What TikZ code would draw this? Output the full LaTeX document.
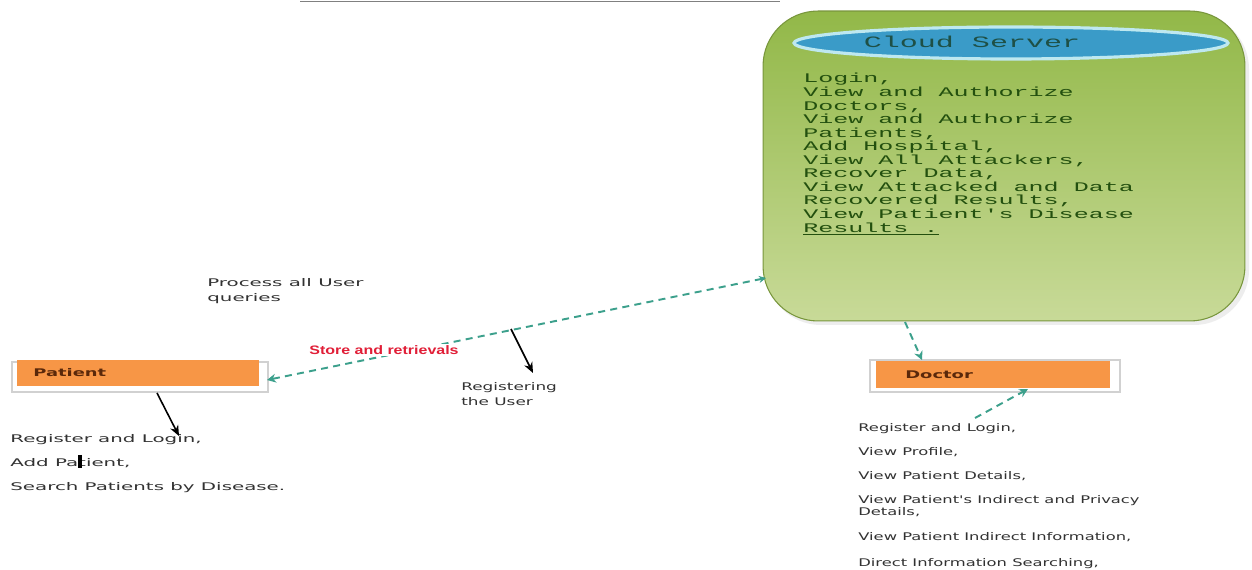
\documentclass[tikz,border=0pt]{standalone}
\usepackage{fontspec}
\setmainfont{DejaVu Sans}
\newfontfamily\monofnt[FakeStretch=1.9]{Liberation Mono}
\newfontfamily\lblfnt[FakeStretch=1.88]{DejaVu Sans}
\newfontfamily\docfnt[FakeStretch=1.55]{DejaVu Sans}
\newfontfamily\regfnt[FakeStretch=1.6]{DejaVu Sans}
\newfontfamily\boxfnt[FakeStretch=1.7]{DejaVu Sans}
\newfontfamily\redfnt[FakeStretch=1.3]{Liberation Sans}
\usetikzlibrary{arrows.meta,shapes.geometric}
\definecolor{orangebox}{RGB}{247,150,70}
\definecolor{boxtext}{RGB}{90,40,10}
\definecolor{cloudtop}{RGB}{146,184,72}
\definecolor{cloudbot}{RGB}{200,218,152}
\definecolor{cloudedge}{RGB}{120,150,60}
\definecolor{ellfill}{RGB}{58,155,200}
\definecolor{elledge}{RGB}{190,232,240}
\definecolor{cloudtxt}{RGB}{35,80,15}
\definecolor{titletxt}{RGB}{30,80,70}
\definecolor{dashcol}{RGB}{60,160,140}
\definecolor{redlbl}{RGB}{225,30,55}
\definecolor{greytxt}{RGB}{50,50,50}
\tikzset{
  frame/.style={fill=white, draw=black!18, line width=0.6pt},
  orangebox/.style={fill=orangebox, draw=none, anchor=center},
  boxlabel/.style={font=\boxfnt\bfseries\fontsize{6}{7}\selectfont, text=boxtext, anchor=west, inner sep=0pt},
  lbl/.style={font=\lblfnt\fontsize{6}{8.5}\selectfont, text=greytxt, anchor=west, align=left, inner sep=0pt},
  dashconn/.style={draw=dashcol, line width=1.1pt, dash pattern=on 4pt off 3pt, -{Stealth[length=5pt,width=5pt]}},
  blackarrow/.style={draw=black, line width=0.9pt, -{Stealth[length=6pt,width=5pt]}},
}
\begin{document}
\begin{tikzpicture}[x=0.02cm,y=-0.02cm]
\useasboundingbox (0,0) rectangle (1252,570);
\fill[white] (0,0) rectangle (1252,570);
% top fragment line
\draw[black!50, line width=0.4pt] (300,1) -- (780,1);

% cloud server
\fill[black!7, rounded corners=1.1cm] (766,14) rectangle (1249,325);
\node (cloud) [draw=cloudedge, line width=0.6pt, rounded corners=1.1cm, top color=cloudtop, bottom color=cloudbot,
  minimum width=9.64cm, minimum height=6.2cm, inner sep=0pt] at (1004,166) {};
\node (ell) [ellipse, fill=ellfill, draw=elledge, line width=1.8pt, minimum width=8.68cm, minimum height=0.64cm, inner sep=0pt] at (1011,43) {};
\node (title) [font=\monofnt\fontsize{9}{10}\selectfont, text=titletxt, inner sep=0pt] at (972,42) {Cloud Server};
\node (cloudtext) [font=\monofnt\fontsize{7.5}{7.72}\selectfont, text=cloudtxt, anchor=north west, align=left, inner sep=0pt] at (803,73)
{Login,\\View and Authorize\\Doctors,\\View and Authorize\\Patients,\\Add Hospital,\\View All Attackers,\\Recover Data,\\View Attacked and Data\\Recovered Results,\\View Patient's Disease\\\underline{Results .}};

% patient box
\fill[frame] (12,362) rectangle (268,392);
\node (patient) [orangebox, minimum width=4.84cm, minimum height=0.52cm, inner sep=0pt] at (138,373) {};
\node (patlbl) [boxlabel] at (33,373) {Patient};

% doctor box
\fill[frame] (870,360) rectangle (1120,392);
\node (doctor) [orangebox, minimum width=4.7cm, minimum height=0.54cm, inner sep=0pt] at (993,374.5) {};
\node (doclbl) [boxlabel] at (905,375) {Doctor};

% labels
\node (process) [lbl] at (207,291) {Process all User\\queries};
\node (registering) [lbl, font=\regfnt\fontsize{6}{8.5}\selectfont] at (461,394) {Registering\\the User};

\node (pattext) [lbl, font=\lblfnt\fontsize{6}{13.6}\selectfont, anchor=north west] at (10,434)
{Register and Login,\\Add Patient,\\Search Patients by Disease.};

\node (doctext) [lbl, font=\docfnt\fontsize{6}{6.8}\selectfont, anchor=north west] at (858,423)
{Register and Login,\\[6.8pt]View Profile,\\[6.8pt]View Patient Details,\\[7.3pt]View Patient's Indirect and Privacy\\Details,\\[7.5pt]View Patient Indirect Information,\\[7.5pt]Direct Information Searching,};

% connector end points
\coordinate (cloudL) at (766,278);
\coordinate (patR) at (267,380);
\coordinate (cloudB) at (905,322);
\coordinate (docT) at (922,360);
\coordinate (docB) at (1028,389);
\coordinate (docTxtTop) at (975,418);
\coordinate (dashMid) at (511,329);
\coordinate (regTop) at (533,373);
\coordinate (patB) at (157,393);
\coordinate (regLogin) at (179,436);

\draw[dashconn, {Stealth[length=4pt,width=4pt]}-{Stealth[length=5pt,width=5pt]}] (cloudL) -- (patR);
\draw[dashconn] (cloudB) -- (docT);
\draw[dashconn] (docTxtTop) -- (docB);
\draw[blackarrow] (dashMid) -- (regTop);
\draw[blackarrow] (patB) -- (regLogin);
\draw[black, line width=2pt] (80,455) -- (80,468);

\node (store) [font=\redfnt\bfseries\fontsize{7}{8}\selectfont, text=redlbl, fill=white, inner sep=1pt] at (384,350) {Store and retrievals};
\end{tikzpicture}
\end{document}
